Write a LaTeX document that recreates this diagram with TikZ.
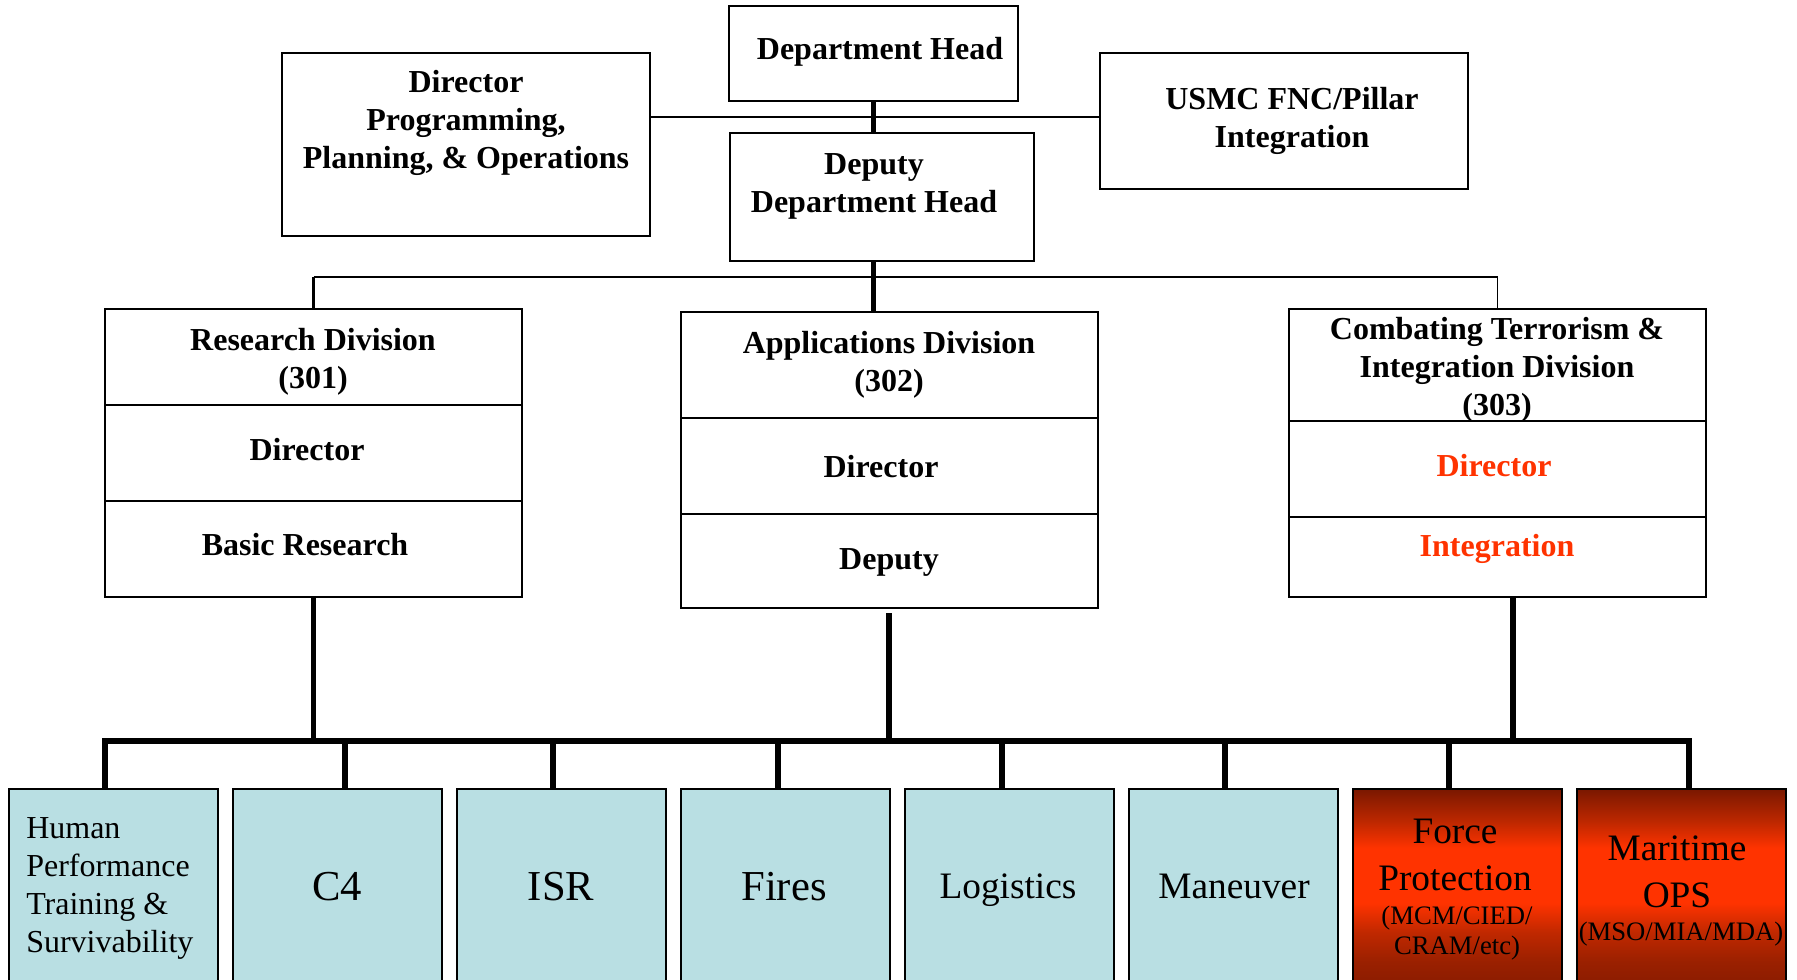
\documentclass[tikz,border=0pt]{standalone}
\usepackage{fontspec}
\setmainfont{Liberation Serif}
\usetikzlibrary{fit}

\definecolor{paleblue}{HTML}{B9DFE3}
\definecolor{alertred}{HTML}{FF3300}
\definecolor{rustdark}{HTML}{7A1800}
\definecolor{rustmid}{HTML}{C02800}
\definecolor{rustlow}{HTML}{9A2000}
\definecolor{rustbright}{HTML}{FF3300}

% dark at the edges, bright band slightly above the middle
\pgfdeclareverticalshading{rustfade}{100bp}{%
  color(0bp)=(rustdark); color(25bp)=(rustdark!80!rustlow);
  color(34bp)=(rustlow); color(41bp)=(rustmid);
  color(48bp)=(rustbright); color(61bp)=(rustbright);
  color(67bp)=(rustmid); color(75bp)=(rustdark); color(100bp)=(rustdark)}

\begin{document}
\begin{tikzpicture}[x=0.75pt, y=-0.75pt,
  box/.style={draw=black, line width=1.1pt, fill=white, inner sep=0pt},
  areabox/.style={box, fill=paleblue},
  threatbox/.style={draw=black, line width=1.1pt, inner sep=0pt, shading=rustfade},
  lbl/.style={anchor=base, align=center, inner sep=0pt,
              font=\fontsize{24}{28.5}\selectfont\bfseries},
  redlbl/.style={lbl, text=alertred},
  arealbl/.style={anchor=base, align=center, inner sep=0pt},
  staffline/.style={line width=1.4pt},
  trunk/.style={line width=3.2pt},
  hairline/.style={line width=0.8pt},
  stub/.style={line width=2.2pt},
  drop/.style={line width=3.8pt},
  bus/.style={line width=4pt, line cap=rect}]

\useasboundingbox (0,0) rectangle (1797,980);
\clip (0,0) rectangle (1797,980);

% ---- head office (text nodes sit on the baseline of their last line) ----
\node[box, fit={(729,6) (1018,101)}] (dh) {};
\node[box, fit={(282,53) (650,236)}] (ppo) {};
\node[box, fit={(1100,53) (1468,189)}] (usmc) {};
\node[box, fit={(730,133) (1034,261)}] (dep) {};

\node[lbl] (dhtext) at (880,60) {Department Head};
\node[lbl] (ppotext) at (466,169) {Director\\Programming,\\Planning, \& Operations};
\node[lbl] (usmctext) at (1292,148) {USMC FNC/Pillar\\Integration};
\node[lbl] (deptext) at (874,213) {Deputy\\Department Head};

% ---- divisions ----
\node[box, fit={(105,309) (522,405)}] (rhead) {};
\node[box, fit={(105,405) (522,501)}] (rdir) {};
\node[box, fit={(105,501) (522,597)}] (rbasic) {};
\node[lbl] (rheadtext) at (313,388) {Research Division\\(301)};
\node[lbl] (rdirtext) at (307,460) {Director};
\node[lbl] (rbasictext) at (305,555) {Basic Research};

\node[box, fit={(681,312) (1098,418)}] (ahead) {};
\node[box, fit={(681,418) (1098,514)}] (adir) {};
\node[box, fit={(681,514) (1098,608)}] (adep) {};
\node[lbl] (aheadtext) at (889,391) {Applications Division\\(302)};
\node[lbl] (adirtext) at (881,477) {Director};
\node[lbl] (adeptext) at (889,569) {Deputy};

\node[box, fit={(1289,309) (1706,421)}] (chead) {};
\node[box, fit={(1289,421) (1706,517)}] (cdir) {};
\node[box, fit={(1289,517) (1706,597)}] (cint) {};
\node[lbl] (cheadtext) at (1497,415) {Combating Terrorism \&\\Integration Division\\(303)};
\node[redlbl] (cdirtext) at (1494,476) {Director};
\node[redlbl] (cinttext) at (1497,556) {Integration};

% ---- capability areas ----
\foreach \i in {1,...,6}
  \node[areabox, fit={({9+224*(\i-1)},789) ({218+224*(\i-1)},1000)}] (b\i) {};
\node[threatbox, fit={(1353,789) (1562,1000)}] (b7) {};
\node[threatbox, fit={(1577,789) (1786,1000)}] (b8) {};

\node[anchor=base west, align=left, inner sep=0pt,
      font=\fontsize{24}{28.5}\selectfont] (b1text) at (26,952)
  {Human\\Performance\\Training \&\\Survivability};
\node[arealbl, font=\fontsize{32}{36}\selectfont] (b2text) at (337,900) {C4};
\node[arealbl, font=\fontsize{32}{36}\selectfont] (b3text) at (561,900) {ISR};
\node[arealbl, font=\fontsize{32}{36}\selectfont] (b4text) at (784,900) {Fires};
\node[arealbl, font=\fontsize{28}{33}\selectfont] (b5text) at (1008,898) {Logistics};
\node[arealbl, font=\fontsize{28}{33}\selectfont] (b6text) at (1234,898) {Maneuver};
\node[arealbl, font=\fontsize{28}{35}\selectfont] (b7text) at (1455,890) {Force\\Protection};
\node[arealbl, font=\fontsize{20}{22}\selectfont] (b7sub) at (1457,954) {(MCM/CIED/\\CRAM/etc)};
\node[arealbl, font=\fontsize{28}{35}\selectfont] (b8text) at (1677,907) {Maritime\\OPS};
\node[arealbl, font=\fontsize{20}{22}\selectfont] (b8sub) at (1681,940) {(MSO/MIA/MDA)};

% ---- connectors ----
\coordinate (hub) at (873,117);
\draw[staffline] (ppo.east |- hub) -- (usmc.west |- hub);
\draw[trunk] (dh.south) -- (dep.north -| dh.south);
\draw[trunk] (dep.south -| dh.south) -- (ahead.north -| dh.south);

\coordinate (tee) at (873,277);
\draw[hairline] (rhead.north |- tee) -- (chead.north |- tee) -- (chead.north);
\draw[stub] (rhead.north) -- (rhead.north |- tee);

\coordinate (busL) at (105,741);
\coordinate (busR) at (1689,741);
\draw[bus] (busL) -- (busR);

\draw[drop] (rbasic.south) -- (rbasic.south |- busL);
\coordinate (aup) at (889,613);
\draw[drop] (aup) -- (aup |- busL);
\coordinate (cx) at (1513,0);
\draw[drop] (cint.south -| cx) -- (busL -| cx);

\foreach \i/\x in {1/105,2/345,3/553,4/778,5/1002,6/1225,7/1449,8/1689} {
  \coordinate (d\i) at (\x,741);
  \draw[drop] (d\i) -- (d\i |- b\i.north);
}
\end{tikzpicture}
\end{document}
